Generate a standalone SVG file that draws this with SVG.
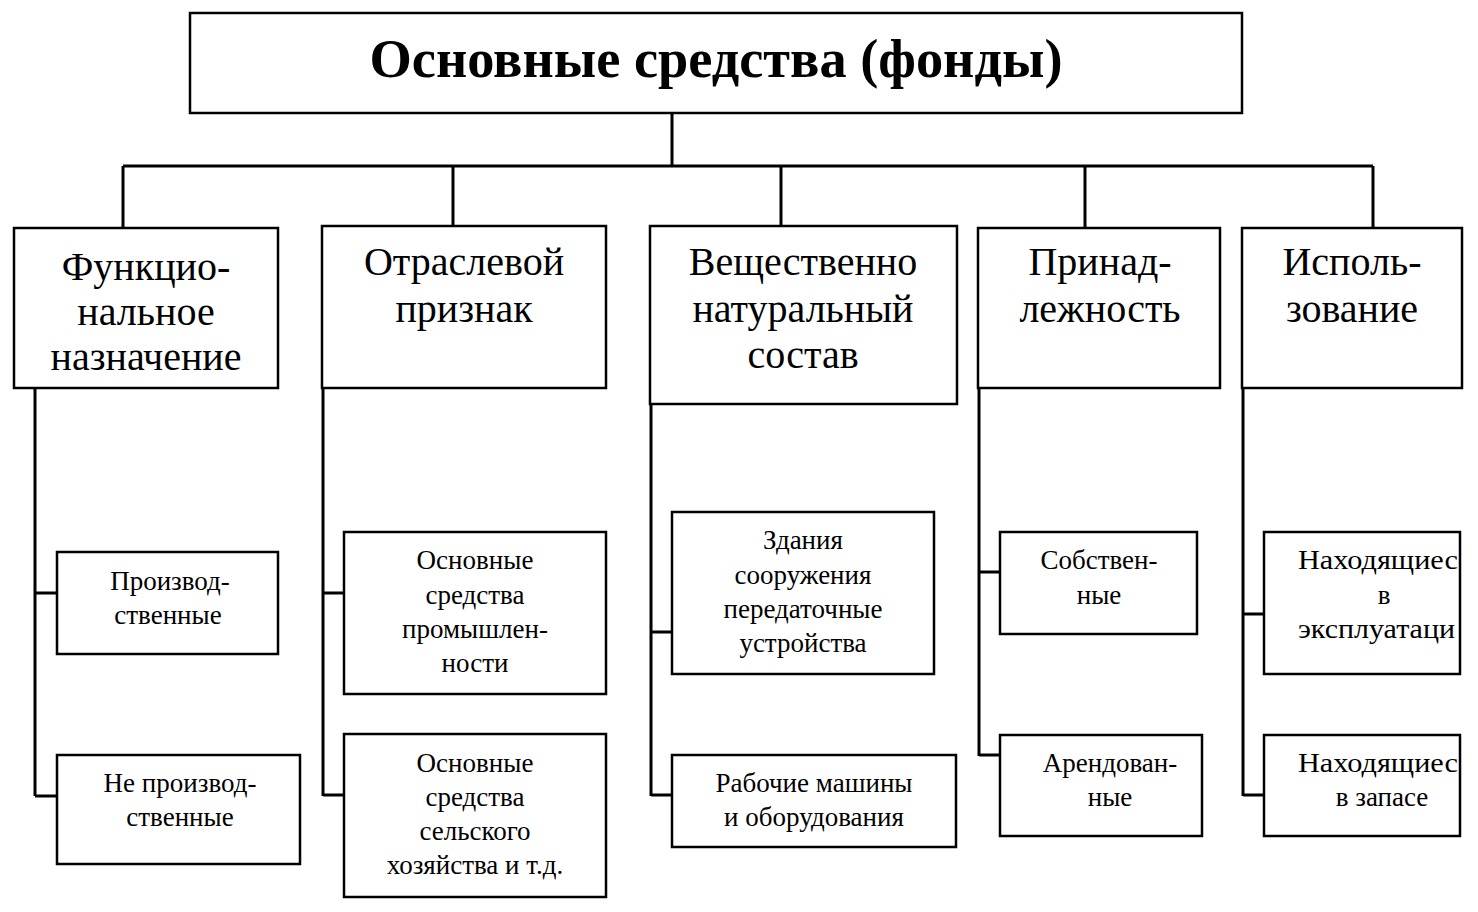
<svg xmlns="http://www.w3.org/2000/svg" width="1478" height="912" viewBox="0 0 1478 912">
<style>
.box{fill:#fff;stroke:#000;stroke-width:2.5}
.ln{fill:none;stroke:#000;stroke-width:3}
.t{font-family:"Liberation Serif","Times New Roman",serif;fill:#000;text-anchor:middle}
.s{text-anchor:start}
.title{font-size:54px;font-weight:bold}
.cat{font-size:40px}
.sub{font-size:27px}
</style>
<rect width="1478" height="912" fill="#fff"/>
<g id="connectors">
<path class="ln" d="M672 113V166M123 166H1373M123 166V228M453 166V226M781 166V226M1085 166V228M1373 166V228"/>
<path class="ln" d="M35 388V796M35 593H57M35 796H57"/>
<path class="ln" d="M323 388V796M323 593H344M323 795H344"/>
<path class="ln" d="M651 404V796M651 632H672M651 795H672"/>
<path class="ln" d="M979 388V756M979 572H1000M979 755H1000"/>
<path class="ln" d="M1243 388V796M1243 614H1264M1243 795H1264"/>
</g>
<g id="root">
<rect class="box" x="190" y="13" width="1052" height="100"/>
<text class="t title" x="716" y="77" textLength="693" lengthAdjust="spacingAndGlyphs">Основные средства (фонды)</text>
</g>
<g id="cat1">
<rect class="box" x="14" y="228" width="264" height="160"/>
<text class="t cat" x="146" y="280">Функцио-</text>
<text class="t cat" x="146" y="325">нальное</text>
<text class="t cat" x="146" y="370">назначение</text>
</g>
<g id="cat2">
<rect class="box" x="322" y="226" width="284" height="162"/>
<text class="t cat" x="464" y="275">Отраслевой</text>
<text class="t cat" x="464" y="322">признак</text>
</g>
<g id="cat3">
<rect class="box" x="650" y="226" width="307" height="178"/>
<text class="t cat" x="803" y="275">Вещественно</text>
<text class="t cat" x="803" y="322">натуральный</text>
<text class="t cat" x="803" y="368">состав</text>
</g>
<g id="cat4">
<rect class="box" x="978" y="228" width="242" height="160"/>
<text class="t cat" x="1100" y="275">Принад-</text>
<text class="t cat" x="1100" y="322">лежность</text>
</g>
<g id="cat5">
<rect class="box" x="1242" y="228" width="220" height="160"/>
<text class="t cat" x="1352" y="275">Исполь-</text>
<text class="t cat" x="1352" y="322">зование</text>
</g>
<g id="c1a">
<rect class="box" x="57" y="552" width="221" height="102"/>
<text class="t sub" x="170" y="590">Производ-</text>
<text class="t sub" x="168" y="624">ственные</text>
</g>
<g id="c1b">
<rect class="box" x="57" y="755" width="243" height="109"/>
<text class="t sub" x="180" y="792">Не производ-</text>
<text class="t sub" x="180" y="826">ственные</text>
</g>
<g id="c2a">
<rect class="box" x="344" y="532" width="262" height="162"/>
<text class="t sub" x="475" y="569">Основные</text>
<text class="t sub" x="475" y="604">средства</text>
<text class="t sub" x="475" y="638">промышлен-</text>
<text class="t sub" x="475" y="672">ности</text>
</g>
<g id="c2b">
<rect class="box" x="344" y="734" width="262" height="163"/>
<text class="t sub" x="475" y="772">Основные</text>
<text class="t sub" x="475" y="806">средства</text>
<text class="t sub" x="475" y="840">сельского</text>
<text class="t sub" x="475" y="874">хозяйства и т.д.</text>
</g>
<g id="c3a">
<rect class="box" x="672" y="512" width="262" height="162"/>
<text class="t sub" x="803" y="549">Здания</text>
<text class="t sub" x="803" y="584">сооружения</text>
<text class="t sub" x="803" y="618">передаточные</text>
<text class="t sub" x="803" y="652">устройства</text>
</g>
<g id="c3b">
<rect class="box" x="672" y="755" width="284" height="92"/>
<text class="t sub" x="814" y="792">Рабочие машины</text>
<text class="t sub" x="814" y="826">и оборудования</text>
</g>
<g id="c4a">
<rect class="box" x="1000" y="532" width="197" height="102"/>
<text class="t sub" x="1099" y="569">Собствен-</text>
<text class="t sub" x="1099" y="604">ные</text>
</g>
<g id="c4b">
<rect class="box" x="1000" y="735" width="202" height="101"/>
<text class="t sub" x="1110" y="772">Арендован-</text>
<text class="t sub" x="1110" y="806">ные</text>
</g>
<g id="c5a">
<rect class="box" x="1264" y="532" width="196" height="142"/>
<text class="t sub s" x="1298" y="569" textLength="160" lengthAdjust="spacingAndGlyphs">Находящиес</text>
<text class="t sub" x="1384" y="604">в</text>
<text class="t sub s" x="1298" y="638" textLength="157" lengthAdjust="spacingAndGlyphs">эксплуатаци</text>
</g>
<g id="c5b">
<rect class="box" x="1264" y="735" width="196" height="101"/>
<text class="t sub s" x="1298" y="772" textLength="160" lengthAdjust="spacingAndGlyphs">Находящиес</text>
<text class="t sub" x="1382" y="806">в запасе</text>
</g>
</svg>
